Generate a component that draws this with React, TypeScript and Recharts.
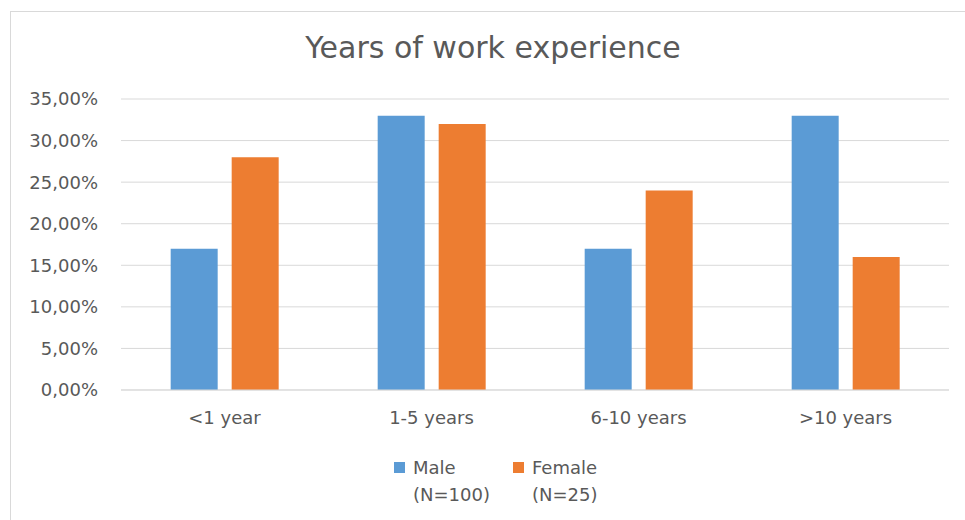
import React from 'react';
import { BarChart, Bar, XAxis, YAxis, CartesianGrid } from 'recharts';

const categories = ['<1 year', '1-5 years', '6-10 years', '>10 years'];
const maleValues = [17, 33, 17, 33];
const femaleValues = [28, 32, 24, 16];
const yTicks = [0, 5, 10, 15, 20, 25, 30, 35];

const data = categories.map((c, i) => ({ name: c, male: maleValues[i], female: femaleValues[i] }));

const FONT = '"DejaVu Sans", "Segoe UI", sans-serif';
const GRAY = '#595959';

const fmt = (v: number) => v.toFixed(2).replace('.', ',') + '%';

export default function App() {
  return (
    <div style={{ position: 'absolute', left: 0, top: 0, width: 965, height: 520, background: '#fff', overflow: 'hidden', fontFamily: FONT }}>
      <div style={{ position: 'absolute', left: 10, top: 11, width: 1000, height: 600, border: '1.5px solid #d9d9d9', boxSizing: 'border-box' }} />
      <div style={{ position: 'absolute', left: 0, top: 29, width: 986, textAlign: 'center', fontSize: 30, color: GRAY, lineHeight: '38px' }}>
        Years of work experience
      </div>
      <BarChart
        width={965}
        height={520}
        data={data}
        margin={{ top: 99, right: 16, bottom: 100, left: 0 }}
        barGap={14}
        barCategoryGap="24%"
        style={{ position: 'absolute', left: 0, top: 0 }}
      >
        <CartesianGrid vertical={false} stroke="#d9d9d9" strokeWidth={1} />
        <XAxis
          dataKey="name"
          height={30}
          axisLine={{ stroke: '#d9d9d9' }}
          tickLine={false}
          tickSize={0}
          tickMargin={21}
          tick={{ fill: GRAY, fontSize: 18, fontFamily: FONT }}
        />
        <YAxis
          width={121}
          domain={[0, 35]}
          ticks={yTicks}
          tickFormatter={fmt}
          axisLine={false}
          tickLine={false}
          tickSize={0}
          tickMargin={23}
          tick={{ fill: GRAY, fontSize: 18, fontFamily: FONT }}
        />
        <Bar dataKey="male" fill="#5B9BD5" isAnimationActive={false} />
        <Bar dataKey="female" fill="#ED7D31" isAnimationActive={false} />
      </BarChart>
      <div style={{ position: 'absolute', left: 394, top: 462, width: 11, height: 11, background: '#5B9BD5' }} />
      <div style={{ position: 'absolute', left: 413, top: 454, fontSize: 18, color: GRAY, lineHeight: '27px' }}>
        Male<br />(N=100)
      </div>
      <div style={{ position: 'absolute', left: 513, top: 462, width: 11, height: 11, background: '#ED7D31' }} />
      <div style={{ position: 'absolute', left: 532, top: 454, fontSize: 18, color: GRAY, lineHeight: '27px' }}>
        Female<br />(N=25)
      </div>
    </div>
  );
}
